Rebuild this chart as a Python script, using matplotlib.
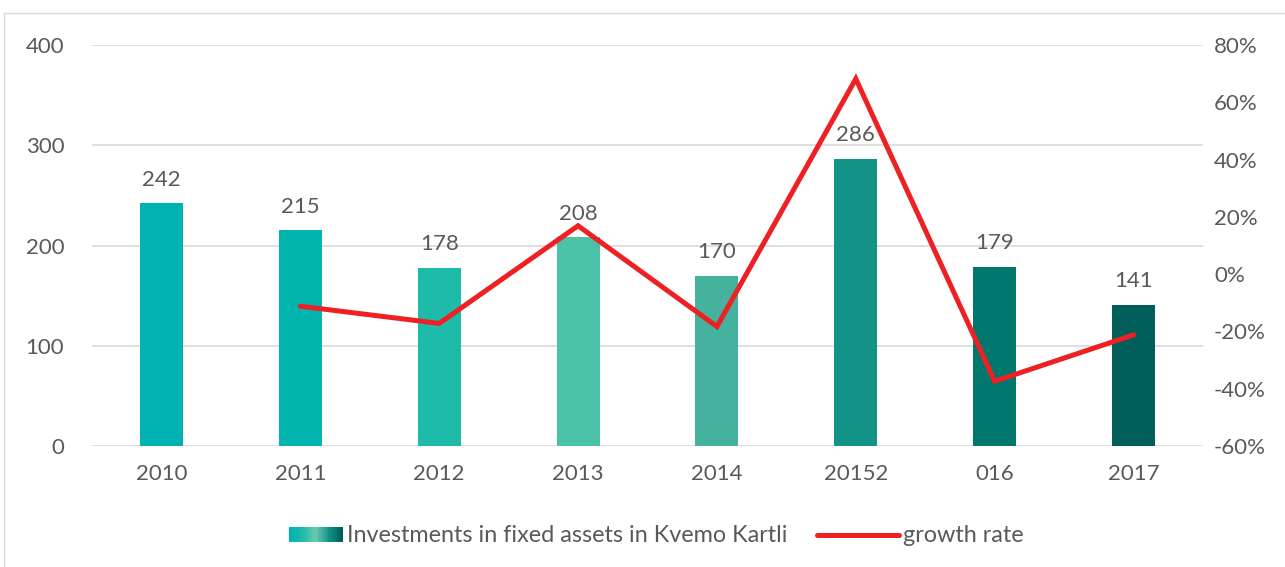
import matplotlib
matplotlib.use("Agg")
import matplotlib.pyplot as plt
from matplotlib.patches import Rectangle
from matplotlib.legend_handler import HandlerBase
from matplotlib.lines import Line2D
from matplotlib.ticker import FuncFormatter
from matplotlib.colors import LinearSegmentedColormap

years = ["2010", "2011", "2012", "2013", "2014", "20152", "016", "2017"]
investments = [242, 215, 178, 208, 170, 286, 179, 141]
growth_years = ["2011", "2012", "2013", "2014", "20152", "016", "2017"]
growth = [-11.2, -17.2, 16.9, -18.3, 68.2, -37.4, -21.2]
bar_colors = ["#00B3B0", "#02B5AE", "#1FBBAA", "#4BC2A7", "#44B29C",
              "#139288", "#00776D", "#005F5B"]

plt.rcParams['font.family'] = ['Lato', 'DejaVu Sans']
grey = "#595959"
fs = 16

fig = plt.figure(figsize=(12.85, 5.67), dpi=100)
fig.patches.append(Rectangle((4 / 1285, -0.1), 1.1, 1 - 13 / 567 + 0.1,
                             transform=fig.transFigure, fill=False,
                             edgecolor="#D9D9D9", linewidth=1))
ax = fig.add_axes([92 / 1285, 1 - 446 / 567, 1111 / 1285, 401 / 567])
ax2 = ax.twinx()

x = list(range(len(years)))
bars = ax.bar(x, investments, width=0.31, color=bar_colors, zorder=2)
for xi, v in zip(x, investments):
    ax.annotate(str(v), (xi, v), xytext=(0, 10), textcoords="offset points",
                ha="center", va="bottom", fontsize=fs, color=grey)

ax.set_ylim(0, 400)
ax.set_yticks([0, 100, 200, 300, 400])
ax.set_xlim(-0.5, len(years) - 0.5)
ax.set_xticks(x)
ax.set_xticklabels(years)
ax.grid(axis="y", color="#D9D9D9", linewidth=1.2, zorder=0)
ax.set_axisbelow(True)
for s in ax.spines.values():
    s.set_visible(False)
ax.tick_params(axis="both", length=0, labelsize=fs, labelcolor=grey)
ax.tick_params(axis="y", pad=20)
ax.tick_params(axis="x", pad=13)

gx = [years.index(y) for y in growth_years]
ax2.plot(gx, growth, color="#EE2024", linewidth=3.6, solid_joinstyle="miter",
         solid_capstyle="round", zorder=3)
ax2.set_ylim(-60, 80)
ax2.set_yticks(range(-60, 81, 20))
ax2.yaxis.set_major_formatter(FuncFormatter(lambda v, p: "%d%%" % v))
for s in ax2.spines.values():
    s.set_visible(False)
ax2.tick_params(axis="y", length=0, labelsize=fs, labelcolor=grey, pad=8)

legend_cmap = LinearSegmentedColormap.from_list(
    "leg", ["#00B3B0", "#1FBBAA", "#6CC8AC", "#139288", "#005F5B"])


class GradientHandler(HandlerBase):
    def create_artists(self, legend, orig, xdescent, ydescent, width, height,
                       fontsize, trans):
        n = 30
        w = width * 54 / 82
        x0 = -xdescent + width - w
        arts = []
        for i in range(n):
            r = Rectangle((x0 + w * i / n, -ydescent), w / n + 0.2, height,
                          facecolor=legend_cmap(i / (n - 1)), edgecolor="none",
                          transform=trans)
            arts.append(r)
        return arts


line_handle = Line2D([], [], color="#EE2024", linewidth=3.6, solid_capstyle="round")
leg = fig.legend([bars, line_handle],
                 ["Investments in fixed assets in Kvemo Kartli", "growth rate"],
                 handler_map={type(bars): GradientHandler()},
                 loc="center", bbox_to_anchor=(0.5, 1 - 536 / 567), ncol=2,
                 frameon=False, fontsize=16.8, handlelength=3.5, handleheight=0.6,
                 handletextpad=0.2, columnspacing=1.25)
for t in leg.get_texts():
    t.set_color(grey)

fig.savefig("out.png", dpi=100)
